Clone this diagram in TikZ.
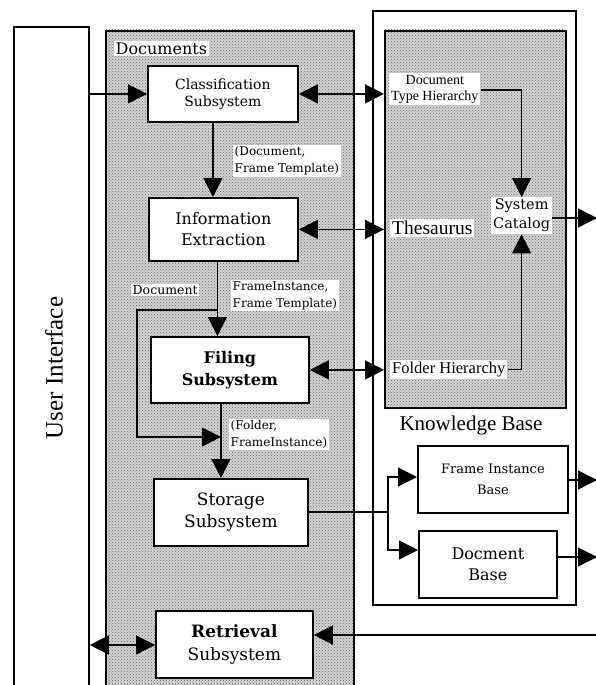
\documentclass[tikz,border=0pt]{standalone}
\usepackage{fontspec}
\setmainfont{Liberation Serif}
\newfontfamily\slab{DejaVu Serif}
\usetikzlibrary{arrows.meta,patterns}
\begin{document}
\begin{tikzpicture}[x=1pt,y=-1pt,
  frame/.style={draw=black,line width=1.8pt,anchor=north west,inner sep=0pt},
  box/.style={draw=black,line width=1.8pt,fill=white,align=center,inner sep=0pt,anchor=north west},
  wlabel/.style={fill=white,align=left,inner sep=1.5pt,anchor=north west,font=\slab\fontsize{12}{17}\selectfont},
  arr/.style={line width=1.3pt,-{Triangle[length=19pt,width=19pt]}},
  darr/.style={line width=1.3pt,{Triangle[length=19pt,width=19pt]}-{Triangle[length=19pt,width=19pt]}},
  ln/.style={line width=1.3pt}]
\useasboundingbox (0,0) rectangle (596,685);
% frames
\node[frame,minimum width=75pt,minimum height=700pt] (ui) at (13,26) {};
\node[rotate=90,font=\fontsize{25}{27}\selectfont] (uit) at (54,368) {User Interface};
\fill[black!17] (105,30) rectangle (353,700);
\fill[pattern=crosshatch dots,pattern color=black!60] (105,30) rectangle (353,700);
\node[frame,minimum width=248pt,minimum height=670pt] (docs) at (105,30) {};
\node[fill=white,inner sep=1.5pt,anchor=north west,font=\slab\fontsize{16}{18}\selectfont] (docl) at (114,41) {Documents};
\node[frame,minimum width=203pt,minimum height=594pt] (kbout) at (372,10) {};
\fill[black!17] (384,30) rectangle (565,407);
\fill[pattern=crosshatch dots,pattern color=black!60] (384,30) rectangle (565,407);
\node[frame,minimum width=181pt,minimum height=377pt] (kbin) at (384,30) {};
\node[font=\fontsize{21}{23}\selectfont] (kbl) at (471,425) {Knowledge Base};
% subsystem boxes
\node[box,minimum width=150pt,minimum height=56pt,font=\slab\fontsize{14}{17}\selectfont] (cls) at (147,65) {Classification\\Subsystem};
\node[box,minimum width=149pt,minimum height=63pt,font=\slab\fontsize{16}{21}\selectfont] (info) at (148,197) {Information\\Extraction};
\node[box,minimum width=158pt,minimum height=66pt,font=\slab\bfseries\fontsize{16}{22}\selectfont] (fil) at (150,336) {Filing\\Subsystem};
\node[box,minimum width=154pt,minimum height=67pt,font=\slab\fontsize{17}{22}\selectfont] (sto) at (153,478) {Storage\\Subsystem};
\node[box,minimum width=157pt,minimum height=67pt,font=\slab\fontsize{17}{23}\selectfont] (ret) at (155,610) {\textbf{Retrieval}\\Subsystem};
\node[box,minimum width=150pt,minimum height=67pt,font=\slab\fontsize{13}{21}\selectfont] (fib) at (417,445) {Frame Instance\\Base};
\node[box,minimum width=138pt,minimum height=67pt,font=\slab\fontsize{16}{21}\selectfont] (dbase) at (418,530) {Docment\\Base};
% knowledge items
\node[fill=white,align=center,inner sep=2pt,anchor=north west,font=\fontsize{14}{16}\selectfont] (dth) at (389,73) {Document\\Type Hierarchy};
\node[fill=white,inner sep=2pt,anchor=north west,font=\fontsize{19.5}{21}\selectfont] (the) at (390,219) {Thesaurus};
\node[fill=white,align=center,inner sep=2pt,anchor=north west,font=\slab\fontsize{14.5}{19}\selectfont] (cat) at (491,197) {System\\Catalog};
\node[fill=white,inner sep=2pt,anchor=north west,font=\fontsize{16.5}{18}\selectfont] (fh) at (390,360) {Folder Hierarchy};
% labels
\node[wlabel] (l1) at (233,145) {(Document,\\Frame Template)};
\node[wlabel] (l2) at (231,280) {FrameInstance,\\Frame Template)};
\node[wlabel,font=\slab\fontsize{12.5}{15}\selectfont] (l3) at (131,284) {Document};
\node[wlabel] (l4) at (229,419) {(Folder,\\FrameInstance)};
% connectors
\draw[arr] (ui.east |- cls.west) -- (cls.west);
\draw[darr] (cls.east) -- (cls.east -| kbin.west);
\draw[darr] (info.east) -- (info.east -| kbin.west);
\draw[darr] (fil.east) -- (fil.east -| kbin.west);
\draw[arr] ([xshift=-10pt]cls.south) -- ([xshift=-10pt]cls.south |- info.north);
\coordinate (a2) at ([xshift=-6pt]info.south);
\draw[arr] (a2) -- (a2 |- fil.north);
\coordinate (a3) at ([xshift=-9pt]fil.south);
\draw[arr] (a3) -- (a3 |- sto.north);
\coordinate (b1) at (a2 |- 0,310);
\coordinate (b2) at (a3 |- 0,437);
\draw[arr] (b1) -- (137,310) -- (137,437) -- (b2);
\coordinate (sj) at (388,0);
\draw[ln] (sto.east |- 0,512) -- (sj |- 0,512);
\draw[arr] (sj |- 0,512) -- (sj |- 0,477) -- (fib.west |- 0,477);
\draw[arr] (sj |- 0,512) -- (sj |- 0,550) -- (dbase.west |- 0,550);
\coordinate (rx) at (597,0);
\draw[arr] (fib.east |- 0,480) -- (rx |- 0,480);
\draw[arr] (dbase.east |- 0,557) -- (rx |- 0,557);
\draw[arr] (cat.east |- 0,218) -- (rx |- 0,218);
\draw[arr] (rx |- 0,635) -- (ret.east |- 0,635);
\draw[darr] (ui.east |- 0,645) -- (ret.west |- 0,645);
\draw[arr] (dth.east |- 0,90) -| (cat.north);
\draw[arr] (fh.east) -| (cat.south);
\end{tikzpicture}
\end{document}
